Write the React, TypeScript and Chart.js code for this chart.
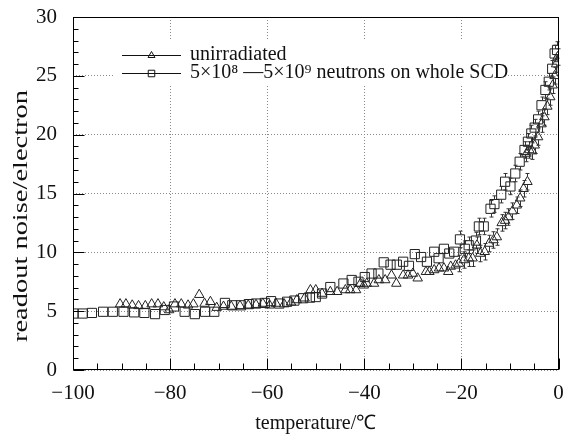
import React, { useEffect, useRef } from "react";
import { Chart, registerables } from "chart.js";

Chart.register(...registerables);

// ---- data ----
const unirrTemp = [
  -90.3, -89.1, -87.8, -86.5, -85.1, -83.8, -82.5, -81.3, -80.2, -79.0, -77.7, -76.3, -75.2, -74.0, -72.9, -71.7,
  -70.4, -69.0, -67.4, -65.6, -63.9, -62.3, -60.9, -59.5, -58.2, -56.5, -55.1, -53.9, -52.3, -51.1, -50.0, -48.7,
  -47.0, -45.6, -43.9, -42.9, -41.7, -40.8, -40.1, -39.5, -38.0, -37.0, -35.7, -34.4, -33.4, -32.0, -31.0, -30.0,
  -29.0, -27.3, -26.6, -25.6, -24.6, -23.6, -22.7, -22.2, -21.2, -20.5, -19.5, -18.5, -17.7, -16.8, -16.1, -15.2,
  -14.3, -13.4, -12.7, -11.7, -11.0, -10.3, -9.5, -8.6, -7.9, -7.2, -6.6, -6.4, -6.0, -5.4, -4.9, -4.2,
  -3.5, -2.9, -2.3, -1.7, -1.2, -0.8, -0.5, -0.2,
];
const unirrNoise = [
  5.6, 5.6, 5.5, 5.45, 5.45, 5.6, 5.6, 5.35, 5.1, 5.6, 5.6, 5.5, 5.6, 6.4, 5.65, 5.8,
  5.3, 5.4, 5.4, 5.45, 5.5, 5.55, 5.65, 5.5, 5.65, 5.6, 5.75, 5.95, 6.1, 6.8, 6.8, 6.5,
  6.65, 6.65, 6.8, 6.8, 6.8, 7.35, 7.2, 7.35, 7.35, 7.65, 7.65, 8.05, 7.35, 8.05, 8.05, 8.2,
  7.8, 8.35, 8.35, 8.5, 8.65, 8.65, 8.35, 8.8, 8.9, 9.05, 9.35, 9.5, 9.5, 10.6, 9.9, 10.05,
  10.75, 11.05, 11.3, 12.5, 12.7, 13.0, 13.5, 14.0, 14.6, 15.4, 18.4, 16.0, 18.7, 18.6, 19.1, 19.8,
  20.9, 21.5, 22.4, 23.2, 24.2, 25.0, 26.0, 26.6,
];
const irrTemp = [
  -99.9, -98.0, -96.1, -93.8, -91.8, -89.6, -87.4, -85.3, -83.1, -81.1, -79.2, -77.0, -74.9, -72.8, -70.9, -68.7,
  -67.2, -65.4, -63.8, -62.3, -60.5, -59.2, -57.5, -55.9, -54.4, -52.6, -51.2, -50.0, -48.7, -47.0, -44.3, -42.6,
  -41.2, -39.9, -38.5, -37.1, -36.0, -34.6, -33.3, -32.0, -30.8, -29.6, -28.3, -27.1, -25.6, -24.7, -23.6, -22.5,
  -21.5, -20.3, -19.3, -18.5, -17.0, -16.4, -15.4, -14.0, -13.2, -11.8, -11.0, -9.9, -8.9, -8.0, -7.0, -6.3,
  -5.6, -4.9, -4.2, -3.5, -2.7, -2.0, -1.3, -0.8, -0.3,
];
const irrNoise = [
  4.8, 4.8, 4.85, 4.95, 4.95, 4.95, 4.9, 4.85, 4.75, 5.1, 5.4, 4.95, 4.75, 4.95, 4.95, 5.7,
  5.5, 5.5, 5.6, 5.65, 5.7, 5.85, 5.65, 5.8, 5.9, 6.1, 6.15, 6.2, 6.5, 7.05, 7.35, 7.65,
  7.5, 7.9, 8.2, 8.2, 9.15, 8.95, 8.95, 9.2, 8.85, 9.85, 9.6, 9.2, 10.05, 9.5, 10.3, 9.9,
  10.05, 11.1, 10.3, 10.6, 11.0, 12.2, 12.2, 13.7, 14.1, 14.9, 16.0, 15.6, 16.7, 17.7, 18.7, 19.4,
  20.1, 20.6, 21.3, 22.5, 23.8, 24.5, 25.6, 26.9, 27.2,
];

const xTickValues = [-100, -80, -60, -40, -20, 0];
const xTickLabels = ["\u2212100", "\u221280", "\u221260", "\u221240", "\u221220", "0"];
const yTickValues = [0, 5, 10, 15, 20, 25, 30];
const yTickLabels = ["0", "5", "10", "15", "20", "25", "30"];
const seriesLabels = ["unirradiated", "5×10⁸ —5×10⁹ neutrons on whole SCD"];
const xTitle = "temperature/℃";
const yTitle = "readout noise/electron";
const errorHalf = 0.7;
const errorFromTemp = -21;
const xMinorStep = 5;
const yMinorStep = 1;

const FONT = '"Liberation Serif", "Times New Roman", serif';
const INK = "#111";

function drawMarker(ctx: CanvasRenderingContext2D, style: string, x: number, y: number, r: number) {
  ctx.beginPath();
  if (style === "triangle") {
    ctx.moveTo(x, y - r);
    ctx.lineTo(x + r * 0.866, y + r / 2);
    ctx.lineTo(x - r * 0.866, y + r / 2);
    ctx.closePath();
  } else {
    const s = r * Math.SQRT1_2;
    ctx.rect(x - s, y - s, 2 * s, 2 * s);
  }
  ctx.stroke();
}

const decorPlugin = {
  id: "decor",
  afterDatasetsDraw(chart: any) {
    const { ctx, scales } = chart;
    const x = scales.x;
    const y = scales.y;
    ctx.save();
    ctx.strokeStyle = "#333";
    ctx.lineWidth = 1;
    chart.data.datasets.forEach((ds: any) => {
      const r = ds.pointRadius;
      const upGap = ds.pointStyle === "triangle" ? r : r * Math.SQRT1_2;
      const downGap = ds.pointStyle === "triangle" ? r / 2 : r * Math.SQRT1_2;
      ds.data.forEach((p: any) => {
        if (p.x < errorFromTemp) return;
        const px = Math.round(x.getPixelForValue(p.x)) + 0.5;
        const py = y.getPixelForValue(p.y);
        const top = y.getPixelForValue(p.y + errorHalf);
        const bot = y.getPixelForValue(p.y - errorHalf);
        ctx.beginPath();
        if (py - upGap > top) {
          ctx.moveTo(px, py - upGap);
          ctx.lineTo(px, top);
          ctx.moveTo(px - 2, top);
          ctx.lineTo(px + 2, top);
        }
        if (py + downGap < bot) {
          ctx.moveTo(px, py + downGap);
          ctx.lineTo(px, bot);
          ctx.moveTo(px - 2, bot);
          ctx.lineTo(px + 2, bot);
        }
        ctx.stroke();
      });
    });
    ctx.restore();
  },
  afterDraw(chart: any) {
    const { ctx, chartArea: a, scales } = chart;
    const x = scales.x;
    const y = scales.y;
    ctx.save();
    // frame
    ctx.strokeStyle = "#000";
    ctx.lineWidth = 1;
    const L = Math.round(a.left) + 0.5;
    const T = Math.round(a.top) + 0.5;
    const R = Math.round(a.right) - 0.5;
    const B = Math.round(a.bottom) - 0.5;
    ctx.strokeRect(L, T, R - L, B - T);
    // inward ticks
    ctx.beginPath();
    for (let v = x.min; v <= x.max + 1e-9; v += xMinorStep) {
      const px = Math.round(x.getPixelForValue(v)) + 0.5;
      const len = Math.abs(v % 20) < 1e-9 ? 11 : 6;
      ctx.moveTo(px, B);
      ctx.lineTo(px, B - len);
    }
    for (let v = y.min; v <= y.max + 1e-9; v += yMinorStep) {
      const py = Math.round(y.getPixelForValue(v)) + 0.5;
      const len = Math.abs(v % 5) < 1e-9 ? 11 : 5;
      ctx.moveTo(L, py);
      ctx.lineTo(L + len, py);
    }
    ctx.stroke();

    // legend
    ctx.fillStyle = "#fff";
    ctx.fillRect(113, 41, 393, 44);
    ctx.fillStyle = INK;
    ctx.strokeStyle = "#111";
    ctx.font = `20px ${FONT}`;
    ctx.textBaseline = "alphabetic";
    ctx.textAlign = "left";
    const rows = [55.5, 73.5];
    chart.data.datasets.forEach((ds: any, i: number) => {
      const ly = rows[i];
      ctx.beginPath();
      ctx.moveTo(122, ly);
      ctx.lineTo(181, ly);
      ctx.stroke();
      if (ds.pointStyle === "triangle") {
        drawMarker(ctx, "triangle", 151.5, ly, 4);
      } else {
        drawMarker(ctx, "rect", 151.5, ly, 4.6);
      }
      ctx.fillStyle = INK;
      ctx.fillText(ds.label, 190, ly + 4.5);
    });

    // y title (horizontally stretched like the reference)
    ctx.save();
    ctx.font = `21px ${FONT}`;
    const w = ctx.measureText(yTitle).width;
    ctx.translate(27, 216);
    ctx.rotate(-Math.PI / 2);
    ctx.scale(252 / w, 1);
    ctx.textAlign = "center";
    ctx.textBaseline = "alphabetic";
    ctx.fillStyle = INK;
    ctx.fillText(yTitle, 0, 0);
    ctx.restore();

    ctx.restore();
  },
};

export default function App() {
  const ref = useRef<HTMLCanvasElement | null>(null);
  useEffect(() => {
    if (!ref.current) return;
    const chart = new Chart(ref.current, {
      type: "scatter",
      data: {
        datasets: [
          {
            label: seriesLabels[0],
            data: unirrTemp.map((t, i) => ({ x: t, y: unirrNoise[i] })),
            pointStyle: "triangle",
            pointRadius: 5.5,
            pointBorderWidth: 1,
            borderColor: "#222",
            backgroundColor: "rgba(0,0,0,0)",
            showLine: false,
          } as any,
          {
            label: seriesLabels[1],
            data: irrTemp.map((t, i) => ({ x: t, y: irrNoise[i] })),
            pointStyle: "rect",
            pointRadius: 6.5,
            pointBorderWidth: 1,
            borderColor: "#222",
            backgroundColor: "rgba(0,0,0,0)",
            showLine: false,
          } as any,
        ],
      },
      options: {
        animation: false,
        responsive: false,
        devicePixelRatio: 1,
        layout: { padding: { top: 17, right: 1, left: 0, bottom: 0 } },
        plugins: {
          legend: { display: false },
          tooltip: { enabled: false },
          title: { display: false },
        },
        scales: {
          x: {
            type: "linear",
            min: -100,
            max: 0,
            afterBuildTicks: (s: any) => {
              s.ticks = xTickValues.map((v) => ({ value: v }));
            },
            afterFit: (s: any) => {
              s.height = 66;
              s.paddingLeft = 0;
              s.paddingRight = 0;
            },
            ticks: {
              callback: (v: any) => {
                const i = xTickValues.indexOf(Number(v));
                return i >= 0 ? xTickLabels[i] : "";
              },
              font: { family: FONT, size: 21 },
              color: INK,
              padding: 11,
              maxRotation: 0,
              autoSkip: false,
            },
            grid: { color: "#8a8a8a", lineWidth: 1, drawTicks: false },
            border: { display: false, dash: [1, 2] },
            title: {
              display: true,
              text: xTitle,
              font: { family: FONT, size: 20 },
              color: INK,
              padding: { top: 0, bottom: 0 },
            },
          },
          y: {
            type: "linear",
            min: 0,
            max: 30,
            afterBuildTicks: (s: any) => {
              s.ticks = yTickValues.map((v) => ({ value: v }));
            },
            afterFit: (s: any) => {
              s.width = 73;
              s.paddingTop = 0;
              s.paddingBottom = 0;
            },
            ticks: {
              callback: (v: any) => {
                const i = yTickValues.indexOf(Number(v));
                return i >= 0 ? yTickLabels[i] : "";
              },
              font: { family: FONT, size: 21 },
              color: INK,
              padding: 16,
              autoSkip: false,
            },
            grid: { color: "#8a8a8a", lineWidth: 1, drawTicks: false },
            border: { display: false, dash: [1, 2] },
          },
        },
      },
      plugins: [decorPlugin],
    } as any);
    return () => chart.destroy();
  }, []);
  return (
    <div style={{ position: "fixed", left: 0, top: 0, width: 566, height: 436, background: "#fff" }}>
      <canvas ref={ref} width={566} height={436} style={{ display: "block" }} />
    </div>
  );
}
